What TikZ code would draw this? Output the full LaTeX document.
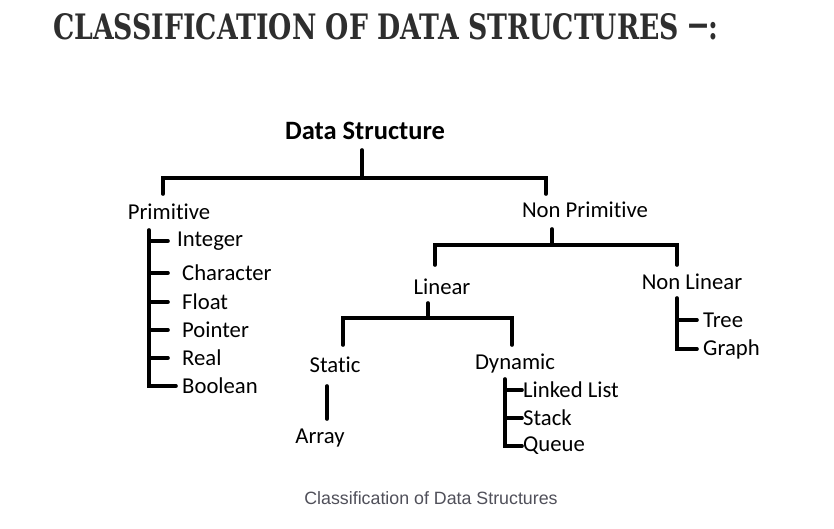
\documentclass[tikz,border=0pt]{standalone}
\usepackage{fontspec}
\setmainfont{Carlito}[Ligatures=NoCommon]
\newfontfamily\titlefont{DejaVu Serif}
\newfontfamily\capfont{Liberation Sans}
\definecolor{titlegray}{HTML}{2E2E2E}
\definecolor{capgray}{HTML}{50505A}
\begin{document}
\begin{tikzpicture}[x=1pt,y=-1pt,
  ln/.style={line width=3.6pt,line cap=round,black},
  lbl/.style={inner sep=0pt,font=\fontsize{22.7}{26}\selectfont},
  item/.style={lbl,anchor=west},
  ttl/.style={inner sep=0pt,anchor=south west,text=titlegray},
  captxt/.style={inner sep=0pt,text=capgray,font=\capfont\fontsize{17.8}{20}\selectfont}]
\useasboundingbox[fill=white] (0,0) rectangle (834,529);
% title
\node[ttl] (title) at (53,40) {\resizebox{665pt}{26pt}{\titlefont\bfseries CLASSIFICATION OF DATA STRUCTURES \raisebox{0.12em}{\scalebox{0.75}[1]{—}}:}};
% nodes
\node[lbl,font=\bfseries\fontsize{26.5}{30}\selectfont] (ds) at (365,131) {Data Structure};
\node[lbl] (prim) at (169,212) {Primitive};
\node[lbl] (nprim) at (585,210) {Non Primitive};
\node[item] (int) at (177,241) {Integer};
\node[item] (chr) at (182,273) {Character};
\node[item] (flt) at (182,302) {Float};
\node[item] (ptr) at (182,330) {Pointer};
\node[item] (real) at (182,358) {Real};
\node[item] (bool) at (182,386) {Boolean};
\node[lbl] (lin) at (442,287) {Linear};
\node[lbl] (nlin) at (692,282) {Non Linear};
\node[lbl] (stat) at (335,365) {Static};
\node[lbl] (dyn) at (515,364) {Dynamic};
\node[lbl] (arr) at (320,438) {Array};
\node[item] (ll) at (523,390) {Linked List};
\node[item] (stk) at (523,418) {Stack};
\node[item] (que) at (523,446) {Queue};
\node[item] (tree) at (703,320) {Tree};
\node[item] (graph) at (703,349) {Graph};
\node[captxt] (caption) at (431,498) {Classification of Data Structures};
% junction coordinates
\coordinate (dsB) at (362,150);
\coordinate (dsJ) at (362,178);
\coordinate (primT) at (163,194);
\coordinate (nprimT) at (546,194);
\coordinate (nprimB) at (552,229);
\coordinate (nprimJ) at (552,245);
\coordinate (linT) at (435,265);
\coordinate (nlinT) at (677,265);
\coordinate (linB) at (428,303);
\coordinate (linJ) at (428,318);
\coordinate (statT) at (343,345);
\coordinate (dynT) at (512,345);
\coordinate (statB) at (327,386);
\coordinate (arrT) at (327,419);
\coordinate (primB) at (149,230);
\coordinate (dynB) at (505,379);
\coordinate (nlinB) at (677,298);
% connectors
\draw[ln] (dsB) -- (dsJ);
\draw[ln] (primT) |- (dsJ) -| (nprimT);
\draw[ln] (nprimB) -- (nprimJ);
\draw[ln] (linT) |- (nprimJ) -| (nlinT);
\draw[ln] (linB) -- (linJ);
\draw[ln] (statT) |- (linJ) -| (dynT);
\draw[ln] (statB) -- (arrT);
% primitive list
\draw[ln] (primB) |- ([xshift=-6pt]bool.west);
\foreach \n in {int,chr,flt,ptr,real}
  \draw[ln] (primB |- \n.west) -- ++(19,0);
% dynamic list
\draw[ln] (dynB) |- ([xshift=-1pt]que.west);
\draw[ln] (dynB |- ll.west) -- ([xshift=-1pt]ll.west);
\draw[ln] (dynB |- stk.west) -- ([xshift=-1pt]stk.west);
% non linear list
\draw[ln] (nlinB) |- ([xshift=-6pt]graph.west);
\draw[ln] (nlinB |- tree.west) -- ([xshift=-6pt]tree.west);
\end{tikzpicture}
\end{document}
